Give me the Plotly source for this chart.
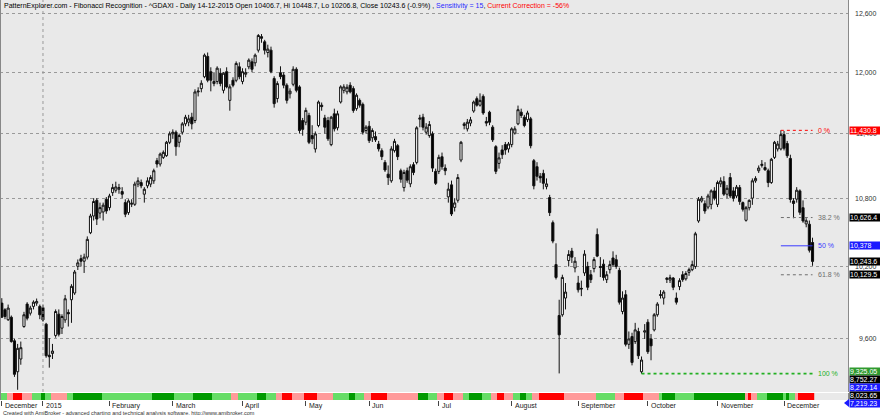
import math
from itertools import groupby
import pandas as pd
import plotly.graph_objects as go

# ---------------- data ----------------
holidays = ['2014-12-24', '2014-12-25', '2014-12-26', '2014-12-31',
            '2015-01-01', '2015-04-03', '2015-04-06', '2015-05-01']

# (open, high, low, close) per trading day, month by month
ohlc_dec14 = [(9892, 9933, 9770, 9776), (9837, 9850, 9760, 9782), (9756, 9880, 9745, 9851),
              (9776, 9790, 9570, 9579), (9585, 9600, 9300, 9320), (9340, 9560, 9200, 9525),
              (9440, 9579, 9395, 9530), (9700, 9820, 9690, 9796), (9884, 9900, 9750, 9768),
              (9809, 9870, 9790, 9851), (9865, 9915, 9840, 9900), (9892, 9930, 9870, 9906),
              (9865, 9880, 9760, 9796)]
ohlc_jan15 = [(9855, 9880, 9740, 9754), (9719, 9730, 9450, 9466), (9470, 9606, 9372, 9458),
              (9484, 9560, 9440, 9503), (9628, 9840, 9610, 9823), (9801, 9840, 9620, 9638),
              (9687, 9800, 9640, 9782), (9754, 9960, 9730, 9928), (9815, 9840, 9700, 9804),
              (9920, 10050, 9730, 10032), (9976, 10170, 9960, 10153), (10202, 10260, 10170, 10231),
              (10267, 10300, 10200, 10245), (10245, 10310, 10145, 10280), (10280, 10460, 10260, 10434),
              (10492, 10660, 10480, 10640), (10640, 10800, 10600, 10770), (10781, 10800, 10560, 10613),
              (10666, 10760, 10620, 10715), (10676, 10760, 10600, 10737), (10790, 10810, 10660, 10685)]
ohlc_feb15 = [(10715, 10840, 10690, 10820), (10850, 10930, 10820, 10896), (10872, 10950, 10850, 10902),
              (10881, 10930, 10840, 10896), (10860, 10900, 10800, 10836), (10760, 10790, 10630, 10656),
              (10670, 10790, 10650, 10775), (10745, 10790, 10720, 10754), (10745, 10950, 10730, 10928),
              (10928, 10990, 10900, 10958), (10942, 10970, 10890, 10912), (10836, 10900, 10760, 10881),
              (10912, 10990, 10890, 10958), (10928, 11010, 10900, 10989), (10958, 11070, 10930, 11051),
              (11144, 11170, 11080, 11113), (11113, 11220, 11090, 11206), (11175, 11240, 11160, 11222),
              (11191, 11330, 11180, 11317), (11317, 11420, 11300, 11397)]
ohlc_mar15 = [(11397, 11440, 11350, 11413), (11413, 11430, 11190, 11276), (11317, 11400, 11270, 11381),
              (11413, 11510, 11390, 11493), (11493, 11580, 11470, 11557), (11509, 11580, 11470, 11541),
              (11557, 11600, 11440, 11493), (11525, 11830, 11500, 11804), (11804, 11850, 11760, 11812),
              (11837, 11920, 11800, 11890), (11955, 12190, 11940, 12173), (12160, 12200, 11900, 11920),
              (12006, 12050, 11810, 11920), (11887, 12000, 11860, 11908), (11908, 12060, 11880, 12041),
              (11990, 12040, 11860, 11887), (11820, 12000, 11790, 11990), (12006, 12050, 11840, 11854),
              (11721, 11880, 11620, 11854), (11920, 11950, 11850, 11870), (11920, 12110, 11900, 12089),
              (12055, 12100, 11930, 11955)]
ohlc_apr15 = [(11908, 12040, 11880, 12006), (11980, 12040, 11950, 11996), (12055, 12140, 12030, 12122),
              (12105, 12140, 12000, 12030), (12095, 12190, 12060, 12173), (12224, 12390, 12200, 12375),
              (12363, 12390, 12300, 12346), (12310, 12330, 12180, 12224), (12200, 12280, 12150, 12235),
              (12224, 12260, 11990, 12006), (11937, 11960, 11650, 11689), (11739, 11910, 11700, 11887),
              (11996, 12060, 11930, 11956), (11972, 12000, 11840, 11871), (11871, 11890, 11690, 11721),
              (11786, 11840, 11740, 11812), (11880, 12060, 11860, 12030), (12030, 12050, 11800, 11820),
              (11854, 11870, 11400, 11429), (11525, 11550, 11380, 11440)]
ohlc_may15 = [(11509, 11650, 11480, 11623), (11574, 11600, 11300, 11317), (11381, 11480, 11300, 11350),
              (11254, 11420, 11220, 11397), (11477, 11720, 11460, 11705), (11674, 11700, 11620, 11660),
              (11550, 11580, 11400, 11461), (11525, 11560, 11330, 11350), (11295, 11570, 11280, 11557),
              (11590, 11640, 11420, 11445), (11455, 11620, 11430, 11590), (11705, 11870, 11690, 11854),
              (11820, 11880, 11790, 11854), (11805, 11880, 11780, 11850), (11870, 11900, 11790, 11805),
              (11837, 11860, 11600, 11623), (11640, 11790, 11620, 11772), (11721, 11740, 11650, 11674),
              (11682, 11700, 11390, 11413), (11429, 11480, 11400, 11461)]
ohlc_jun15 = [(11470, 11520, 11310, 11333), (11360, 11450, 11320, 11429), (11371, 11420, 11320, 11340),
              (11300, 11330, 11230, 11255), (11238, 11260, 11150, 11182), (11128, 11150, 11040, 11058),
              (11019, 11100, 10920, 10988), (10958, 11280, 10940, 11254), (11238, 11350, 11220, 11326),
              (11285, 11300, 11150, 11182), (11051, 11070, 10940, 10973), (10896, 11060, 10860, 11035),
              (11051, 11080, 10940, 10964), (10930, 11110, 10900, 11088), (11107, 11130, 11010, 11035),
              (11128, 11470, 11110, 11455), (11538, 11580, 11460, 11548), (11557, 11590, 11430, 11461),
              (11413, 11500, 11390, 11461), (11381, 11520, 11360, 11487), (11397, 11420, 11040, 11075),
              (11045, 11070, 10920, 10935)]
ohlc_jul15 = [(11045, 11200, 11020, 11175), (11181, 11220, 11060, 11088), (11076, 11110, 11010, 11051),
              (10812, 10940, 10760, 10882), (10921, 10960, 10640, 10658), (10717, 10800, 10680, 10757),
              (10781, 11020, 10760, 10988), (11150, 11330, 11130, 11317), (11477, 11510, 11440, 11493),
              (11445, 11540, 11420, 11509), (11500, 11560, 11470, 11532), (11617, 11720, 11600, 11705),
              (11738, 11760, 11660, 11674), (11674, 11790, 11660, 11721), (11760, 11780, 11580, 11598),
              (11516, 11560, 11470, 11500), (11606, 11620, 11480, 11509), (11461, 11480, 11320, 11340),
              (11276, 11290, 11020, 11045), (11119, 11220, 11070, 11170), (11245, 11290, 11160, 11200),
              (11295, 11320, 11200, 11245), (11254, 11320, 11220, 11301)]
ohlc_aug15 = [(11295, 11460, 11270, 11445), (11404, 11470, 11390, 11445), (11493, 11670, 11480, 11630),
              (11606, 11640, 11550, 11574), (11557, 11580, 11460, 11477), (11533, 11620, 11510, 11598),
              (11541, 11560, 11260, 11285), (11144, 11160, 10880, 10912), (11088, 11130, 10960, 11000),
              (11000, 11030, 10940, 10985), (11026, 11060, 10880, 10935), (10905, 10980, 10880, 10930),
              (10806, 10830, 10640, 10670), (10581, 10600, 10400, 10419), (10216, 10400, 10090, 10107),
              (9790, 9920, 9327, 9633), (9796, 10130, 9780, 10107), (9934, 10060, 9840, 9984),
              (10251, 10340, 10200, 10303), (10332, 10360, 10230, 10280), (10188, 10280, 10150, 10245)]
ohlc_sep15 = [(10060, 10120, 9980, 10003), (10015, 10080, 9950, 10010), (10145, 10340, 10120, 10306),
              (10200, 10240, 10000, 10024), (10130, 10170, 10060, 10088), (10182, 10280, 10150, 10259),
              (10477, 10530, 10280, 10289), (10200, 10280, 10110, 10192), (10220, 10260, 10080, 10107),
              (10088, 10160, 10060, 10130), (10173, 10250, 10140, 10216), (10273, 10330, 10200, 10216),
              (10258, 10300, 10180, 10200), (10167, 10190, 9880, 9900), (9823, 9990, 9800, 9934),
              (9962, 10000, 9540, 9557), (9557, 9660, 9520, 9600), (9619, 9650, 9390, 9413),
              (9579, 9730, 9560, 9673), (9660, 9690, 9440, 9466), (9340, 9460, 9325.05, 9432),
              (9655, 9720, 9600, 9665)]
ohlc_oct15 = [(9735, 9760, 9480, 9498), (9600, 9640, 9430, 9545), (9673, 9810, 9660, 9796),
              (9796, 9900, 9780, 9884), (9955, 10000, 9930, 9962), (9934, 10000, 9880, 9984),
              (10090, 10110, 10060, 10100), (10085, 10130, 10060, 10105), (10102, 10110, 10000, 10024),
              (9934, 9980, 9880, 9900), (10030, 10100, 10000, 10080), (10130, 10160, 10070, 10088),
              (10095, 10160, 10080, 10140), (10150, 10190, 10120, 10173), (10173, 10250, 10160, 10216),
              (10200, 10500, 10180, 10483), (10596, 10810, 10580, 10790), (10775, 10820, 10760, 10800),
              (10750, 10780, 10660, 10685), (10720, 10840, 10700, 10820), (10744, 10880, 10700, 10866),
              (10866, 10900, 10780, 10800)]
ohlc_nov15 = [(10744, 10960, 10720, 10942), (10930, 10990, 10900, 10958), (10951, 11000, 10820, 10836),
              (10836, 10920, 10800, 10890), (10988, 11030, 10800, 10820), (10866, 10900, 10770, 10800),
              (10820, 10920, 10800, 10900), (10896, 10920, 10740, 10769), (10760, 10770, 10680, 10700),
              (10602, 10730, 10590, 10714), (10714, 10790, 10690, 10780), (10800, 10980, 10740, 10958),
              (10958, 11000, 10940, 10980), (11051, 11100, 11030, 11076), (11100, 11150, 11080, 11110),
              (11080, 11130, 11050, 11060), (11051, 11070, 10900, 10942), (10942, 11170, 10930, 11157),
              (11175, 11330, 11160, 11317), (11254, 11330, 11230, 11300), (11254, 11430.8, 11240, 11390)]
ohlc_dec15 = [(11390, 11425, 11240, 11261), (11305, 11330, 11170, 11191), (11165, 11200, 10760, 10789),
              (10775, 10800, 10620, 10752), (10791, 10900, 10760, 10872), (10866, 10880, 10650, 10673),
              (10714, 10780, 10580, 10596), (10570, 10620, 10540, 10598), (10567, 10600, 10320, 10340),
              (10406.7, 10448.7, 10205.8, 10243.6)]
month_data = [ohlc_dec14, ohlc_jan15, ohlc_feb15, ohlc_mar15, ohlc_apr15, ohlc_may15, ohlc_jun15,
              ohlc_jul15, ohlc_aug15, ohlc_sep15, ohlc_oct15, ohlc_nov15, ohlc_dec15]
month_labels = ['December', '2015', 'February', 'March', 'April', 'May', 'Jun', 'Jul',
                'August', 'September', 'October', 'November', 'December']

# trend-state strip (R=red, LR=light red, LG=light green, DG=dark green), run lengths in bars
strip_runs = [('LG', 2), ('LR', 2), ('R', 3), ('LR', 3), ('LG', 3), ('DG', 1), ('LG', 2), ('LR', 5),
              ('LG', 2), ('DG', 9), ('LG', 16), ('DG', 7), ('LG', 6), ('DG', 6), ('LG', 6), ('LR', 2),
              ('LG', 6), ('DG', 3), ('LG', 3), ('LR', 2), ('R', 3), ('LR', 4), ('R', 4), ('LR', 5),
              ('LG', 5), ('DG', 2), ('LG', 3), ('LR', 2), ('R', 5), ('LR', 10), ('DG', 3), ('LG', 3),
              ('LR', 2), ('R', 3), ('LR', 3), ('LG', 2), ('DG', 4), ('LG', 3), ('LR', 2), ('R', 2),
              ('LR', 3), ('LG', 2), ('DG', 2), ('LG', 2), ('LR', 2), ('R', 8), ('LR', 10), ('LG', 6),
              ('LR', 3), ('R', 6), ('LR', 5), ('LG', 1), ('DG', 4), ('LG', 6), ('DG', 16), ('LR', 1),
              ('R', 1), ('LR', 2), ('LG', 3), ('DG', 5), ('LG', 1), ('DG', 1), ('LG', 2), ('LR', 1),
              ('R', 5)]

# Fibonacci swing
fib_high, fib_high_date = 11430.8, '2015-11-30'
fib_low, fib_low_date = 9325.05, '2015-09-29'
fib_ratios = [0.0, 0.382, 0.5, 0.618, 1.0]
fib_names = ['0 %', '38.2 %', '50 %', '61.8 %', '100 %']
fib_colors = ['#ff0000', '#6e6e6e', '#3a3aff', '#6e6e6e', '#22b022']
fib_dashes = ['dot', 'dot', 'solid', 'dot', 'dot']

# right-edge value boxes (as displayed)
box_values = [11430.8, 10626.4, 10378, 10243.6, 10129.5]
box_colors = ['#ff0000', '#000000', '#1a1aff', '#000000', '#000000']
stack_values = [9325.05, 8752.27, 8272.14, 8023.65, 7219.23]
stack_colors = ['#2f9a2f', '#000000', '#1a1aff', '#000000', '#1a1aff']
price_ticks = [9600, 10200, 10800, 11400, 12000, 12600]

# ---------------- build ----------------
days = [d for d in pd.bdate_range('2014-12-09', '2015-12-14') if d.strftime('%Y-%m-%d') not in holidays]
groups = [list(g) for _, g in groupby(days, key=lambda d: (d.year, d.month))]
dates, opens, highs, lows, closes, month_starts = [], [], [], [], [], []
for g, rows in zip(groups, month_data):
    month_starts.append(g[0].strftime('%Y-%m-%d'))
    for d, (o, h, l, c) in zip(g, rows):
        dates.append(d.strftime('%Y-%m-%d'))
        opens.append(o); highs.append(h); lows.append(l); closes.append(c)

code = {'R': 0, 'LR': 1, 'LG': 2, 'DG': 3}
strip = []
for s, n in strip_runs:
    strip += [code[s]] * n
strip = strip[:len(dates)]

FONT = 'Liberation Sans, Arial, sans-serif'
fig = go.Figure()

fig.add_trace(go.Heatmap(
    x=dates[:len(strip)], y=['s'], z=[strip], zmin=-0.5, zmax=3.5, showscale=False,
    colorscale=[[0, '#ff0000'], [0.25, '#ff0000'], [0.25, '#ff9a9a'], [0.5, '#ff9a9a'],
                [0.5, '#66dd66'], [0.75, '#66dd66'], [0.75, '#009a00'], [1, '#009a00']],
    xaxis='x', yaxis='y2', hoverinfo='skip'))

fig.add_trace(go.Candlestick(
    x=dates, open=opens, high=highs, low=lows, close=closes,
    increasing=dict(line=dict(color='#111111', width=1), fillcolor='#ffffff'),
    decreasing=dict(line=dict(color='#111111', width=1), fillcolor='#000000'),
    whiskerwidth=0, xaxis='x', yaxis='y', showlegend=False))

levels = [fib_high - r * (fib_high - fib_low) for r in fib_ratios]
for r, lv, name, col, dash in zip(fib_ratios, levels, fib_names, fib_colors, fib_dashes):
    start = fib_low_date if r == 1.0 else fib_high_date
    fig.add_trace(go.Scatter(x=[start, dates[-1]], y=[lv, lv], mode='lines',
                             line=dict(color=col, dash=dash, width=1.6 if r == 1.0 else 1),
                             xaxis='x', yaxis='y', showlegend=False, hoverinfo='skip'))

ann = []
# title
ann.append(dict(xref='paper', yref='paper', x=0, y=1, xanchor='left', yanchor='top', xshift=2, yshift=0,
                showarrow=False, font=dict(family=FONT, size=7, color='#000'),
                text='PatternExplorer.com - Fibonacci Recognition - ^GDAXI - Daily 14-12-2015 Open 10406.7, '
                     'Hi 10448.7, Lo 10206.8, Close 10243.6 (-0.9%) , '
                     '<span style="color:#2a2aff">Sensitivity = 15</span>, '
                     '<span style="color:#ff0000">Current Correction = -56%</span>'))
# price tick labels (right aligned at window edge)
for v in price_ticks:
    ann.append(dict(xref='paper', yref='y', x=1, y=math.log10(v), xanchor='right', xshift=31,
                    showarrow=False, text=f'{v:,}', font=dict(family=FONT, size=7, color='#333')))
# fib % labels
for lv, name, col in zip(levels, fib_names, fib_colors):
    ann.append(dict(xref='x', yref='y', x=dates[-1], y=math.log10(lv), xanchor='left', xshift=3,
                    showarrow=False, text=name, font=dict(family=FONT, size=7, color=col)))
# value boxes
for v, col in zip(box_values, box_colors):
    ann.append(dict(xref='paper', yref='y', x=1, y=math.log10(v), xanchor='left', xshift=1,
                    showarrow=False, text=f'{v:,}', bgcolor=col, borderpad=0, width=31, align='left',
                    font=dict(family=FONT, size=7, color='#fff')))
for k, (v, col) in enumerate(zip(stack_values, stack_colors)):
    ann.append(dict(xref='paper', yref='paper', x=1, y=0, xanchor='left', yanchor='middle', xshift=1,
                    yshift=29 - 8 * k, showarrow=False, text=f'{v:,}', bgcolor=col, borderpad=0,
                    width=31, align='left', font=dict(family=FONT, size=7, color='#fff')))
# month labels
for d, lab in zip(month_starts, month_labels):
    ann.append(dict(xref='x', yref='paper', x=d, y=0, xanchor='left', yanchor='top', xshift=1, yshift=0,
                    showarrow=False, text=lab, font=dict(family=FONT, size=7, color='#222')))
# footer
ann.append(dict(xref='paper', yref='paper', x=0, y=0, xanchor='left', yanchor='top', xshift=1, yshift=-8,
                showarrow=False, font=dict(family=FONT, size=5.5, color='#333'),
                text='Created with AmiBroker - advanced charting and technical analysis software. '
                     'http://www.amibroker.com'))

year_idx = next(i for i, d in enumerate(dates) if d.startswith('2015'))
shapes = [
    dict(type='line', xref='x', yref='paper', x0=year_idx, x1=year_idx, y0=0.02, y1=1,
         line=dict(color='#999', width=1, dash='dot')),
    dict(type='line', xref='paper', yref='paper', x0=0, x1=0, y0=0, y1=1,
         line=dict(color='#888', width=2)),
    dict(type='path', xref='paper', yref='paper', xsizemode='pixel', ysizemode='pixel',
         xanchor=1, yanchor=0, path='M -4,-3 L 1,1 L 1,-7 Z', fillcolor='#1a1aff',
         line=dict(width=0)),
]

fig.update_layout(
    width=880, height=415, margin=dict(l=0, r=32, t=0, b=15, pad=0),
    paper_bgcolor='#ffffff', plot_bgcolor='#e9e9e9', showlegend=False,
    font=dict(family=FONT, size=7), boxgap=0.05,
    xaxis=dict(type='category', range=[-0.57, 267.2], anchor='y2', domain=[0, 1],
               rangeslider=dict(visible=False), tickmode='array', tickvals=month_starts,
               showticklabels=False, ticks='outside', ticklen=5, tickcolor='#444', tickwidth=1,
               showgrid=False, zeroline=False, showline=False),
    yaxis=dict(type='log', domain=[0.02, 1], range=[math.log10(9183), math.log10(12748)],
               side='right', tickmode='array', tickvals=price_ticks, showticklabels=False,
               showgrid=True, gridcolor='#9a9a9a', griddash='dot', gridwidth=1,
               showline=True, linecolor='#8a8a8a', linewidth=1, zeroline=False, anchor='x'),
    yaxis2=dict(domain=[0, 0.0175], showticklabels=False, showgrid=False, side='right',
                showline=True, linecolor='#8a8a8a', zeroline=False, anchor='x'),
    annotations=ann, shapes=shapes,
)

fig.write_html('out.html', config={'displayModeBar': False},
               post_script="document.body.style.margin='0';document.body.style.overflow='hidden';")
